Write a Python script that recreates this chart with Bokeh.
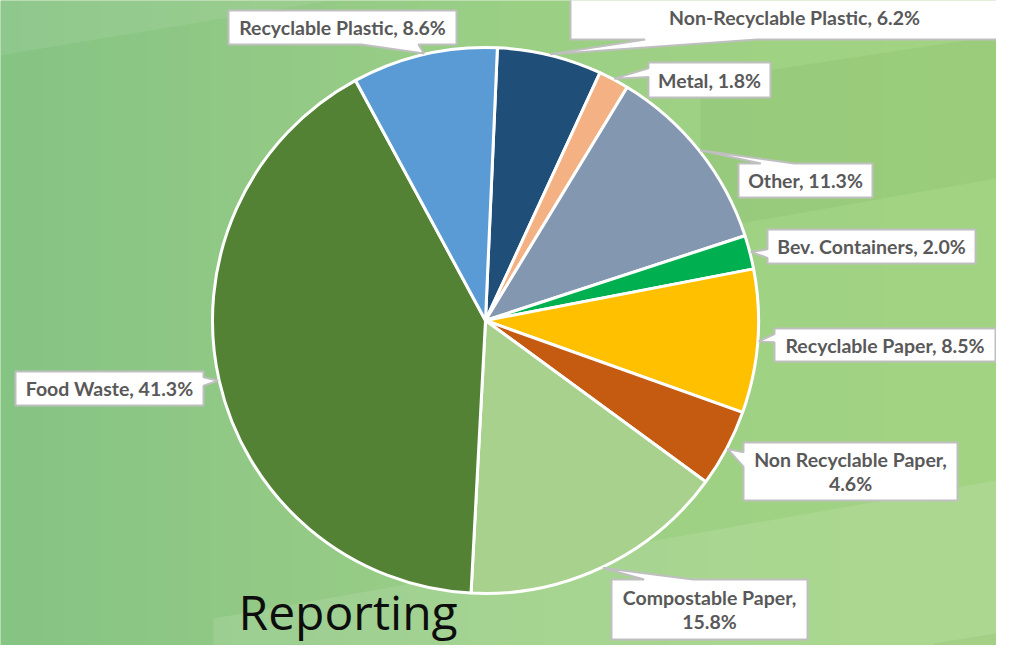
import numpy as np
from bokeh.plotting import figure
from bokeh.models import Range1d, ColumnDataSource
from bokeh.core.properties import value
from bokeh.embed import file_html
from bokeh.resources import INLINE

# ---------------- data ----------------
categories = ["Non-Recyclable Plastic", "Metal", "Other", "Bev. Containers",
              "Recyclable Paper", "Non Recyclable Paper", "Compostable Paper",
              "Food Waste", "Recyclable Plastic"]
percents = [6.2, 1.8, 11.3, 2.0, 8.5, 4.6, 15.8, 41.3, 8.6]
colors = ["#1F4E79", "#F4B183", "#8497B0", "#00B050", "#FFC000",
          "#C55A11", "#A9D18E", "#548235", "#5B9BD5"]
title_text = "Reporting"

# ---------------- layout (reference pixel coords, y down) ----------------
W, H = 1012, 661
CX, CY, R = 485, 320, 273
FIRST_ANGLE = 2.5  # degrees clockwise from 12 o'clock
label_boxes = {
    "Non-Recyclable Plastic": (570, -8, 1018, 39),
    "Metal": (648, 62, 770, 97),
    "Other": (738, 163, 872, 197),
    "Bev. Containers": (767, 229, 975, 263),
    "Recyclable Paper": (774, 328, 995, 361),
    "Non Recyclable Paper": (743, 442, 957, 500),
    "Compostable Paper": (611, 579, 807, 639),
    "Food Waste": (15, 371, 203, 405),
    "Recyclable Plastic": (228, 10, 456, 44),
}
wrapped = {"Non Recyclable Paper", "Compostable Paper"}


def Y(y):
    return H - y


p = figure(width=996, height=645, x_range=Range1d(0, 996), y_range=Range1d(H - 645, H),
           output_backend="svg", toolbar_location=None, x_axis_type=None, y_axis_type=None,
           min_border=0, outline_line_color=None)
p.grid.visible = False
p.background_fill_color = "#97CC85"
p.border_fill_color = "#97CC85"

# ---------------- background gradient ----------------
gx = np.arange(W)
stops_x = [0, 250, 500, 750, 1012]
stops_c = np.array([[134, 196, 132], [146, 201, 134], [154, 207, 133],
                    [160, 210, 132], [163, 212, 131]], dtype=float)
img = np.empty((1, W), dtype=np.uint32)
view = img.view(dtype=np.uint8).reshape((1, W, 4))
for k in range(3):
    view[0, :, k] = np.interp(gx, stops_x, stops_c[:, k]).astype(np.uint8)
view[0, :, 3] = 255
p.image_rgba(image=[img], x=0, y=0, dw=W, dh=H)

bands = [
    ([(0, 0), (330, 0), (0, 55)], "white", 0.08),
    ([(700, 80), (1012, 33), (1012, 175), (700, 230)], "#3A6B20", 0.07),
    ([(213, 661), (213, 618), (1012, 477), (1012, 661)], "white", 0.11),
    ([(933, 661), (933, 643), (1012, 630), (1012, 661)], "#3A6B20", 0.07),
]
p.patches(xs=[[q[0] for q in b[0]] for b in bands],
          ys=[[Y(q[1]) for q in b[0]] for b in bands],
          fill_color=[b[1] for b in bands], fill_alpha=[b[2] for b in bands],
          line_color=None)

# ---------------- pie ----------------
vals = np.array(percents, dtype=float)
frac = vals / vals.sum()
cum = np.concatenate([[0], np.cumsum(frac)]) * 360.0 + FIRST_ANGLE
theta1 = cum[:-1]
theta2 = cum[1:]
start = np.radians(90 - theta1)
end = np.radians(90 - theta2)
src = ColumnDataSource(dict(start=start, end=end, color=colors, cat=categories))
p.wedge(x=CX, y=Y(CY), radius=R, start_angle="start", end_angle="end",
        direction="clock", fill_color="color", line_color="white", line_width=3,
        source=src)

# ---------------- callouts ----------------
mid = np.radians((theta1 + theta2) / 2)
tips_x = CX + (R + 1) * np.sin(mid)
tips_y = CY - (R + 1) * np.cos(mid)

cx_list, cy_list, xs, ys, texts = [], [], [], [], []
for cat, val, tx, ty in zip(categories, percents, tips_x, tips_y):
    l, t, r, b = label_boxes[cat]
    w, h = r - l, b - t
    cx, cy = (l + r) / 2, (t + b) / 2
    dx, dy = (tx - cx) / w, (ty - cy) / h
    pts = [(l, t)]
    if abs(dx) > abs(dy):
        if ty < cy:
            y1, y2 = t + h * 2 / 12, t + h * 5 / 12
        else:
            y1, y2 = t + h * 7 / 12, t + h * 10 / 12
        if dx > 0:
            pts += [(r, t), (r, y1), (tx, ty), (r, y2), (r, b), (l, b)]
        else:
            pts += [(r, t), (r, b), (l, b), (l, y2), (tx, ty), (l, y1)]
    else:
        if tx < cx:
            x1, x2 = l + w * 2 / 12, l + w * 5 / 12
        else:
            x1, x2 = l + w * 7 / 12, l + w * 10 / 12
        if dy > 0:
            pts += [(r, t), (r, b), (x2, b), (tx, ty), (x1, b), (l, b)]
        else:
            pts += [(x1, t), (tx, ty), (x2, t), (r, t), (r, b), (l, b)]
    xs.append([q[0] for q in pts])
    ys.append([Y(q[1]) for q in pts])
    sep = ",\n" if cat in wrapped else ", "
    texts.append(f"{cat}{sep}{val:.1f}%")
    cx_list.append(cx)
    cy_list.append(Y(max(cy, 17)))

p.patches(xs=xs, ys=ys, fill_color="white", line_color="#BFBFBF", line_width=2)
p.text(x=cx_list, y=cy_list, text=texts, text_font=value("Lato"), text_font_style="bold",
       text_font_size="19.5px", text_color="#595959", text_align="center",
       text_baseline="middle", text_line_height=1.08)

# ---------------- title ----------------
p.text(x=[238], y=[Y(643)], text=[title_text], text_font=value("Open Sans"),
       text_font_size="48px", text_color="#0D0D0D", text_align="left",
       text_baseline="bottom")

open("out.html", "w").write(file_html(p, INLINE))
